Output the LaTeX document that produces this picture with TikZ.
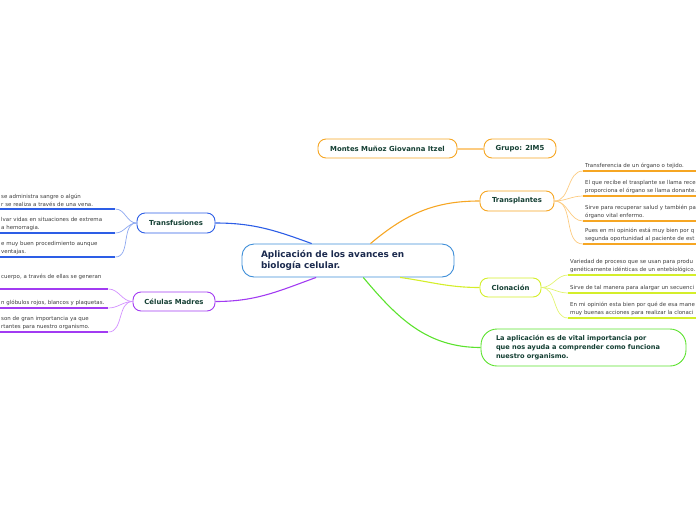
\documentclass[tikz,border=0pt]{standalone}
\usepackage{fontspec}
\setmainfont{DejaVu Sans}
\usepackage{xcolor}
\usetikzlibrary{positioning}
\definecolor{lbl}{HTML}{143F33}
\definecolor{ttl}{HTML}{1B2A4E}
\definecolor{leaftxt}{HTML}{3C3C3C}
\definecolor{cmain}{HTML}{3E8ED8}
\definecolor{corange}{HTML}{F6A623}
\definecolor{corangel}{HTML}{FCCB80}
\definecolor{cyel}{HTML}{D4EE2A}
\definecolor{cyell}{HTML}{E2F470}
\definecolor{cgreen}{HTML}{5CE22E}
\definecolor{cblue}{HTML}{2D5EE6}
\definecolor{cbluel}{HTML}{8DA8F0}
\definecolor{cpurp}{HTML}{A23BF2}
\definecolor{cpurpl}{HTML}{D290FF}

\begin{document}
\begin{tikzpicture}[x=1pt,y=-1pt,
  topic/.style={draw, rounded corners=8pt, fill=white, line width=0.9pt, align=center, inner sep=0pt, minimum height=19pt, text=lbl, font=\fontsize{6.9}{8}\selectfont\bfseries},
  leafr/.style={anchor=south west, align=left, text width=200pt, inner xsep=2pt, inner ysep=2.5pt, text=leaftxt, font=\fontsize{5.45}{8}\selectfont},
  leafl/.style={anchor=south west, align=left, text width=112pt, inner xsep=2pt, inner ysep=2.5pt, text=leaftxt, font=\fontsize{5.45}{8}\selectfont},
  br/.style={line width=1.1pt},
  fan/.style={line width=0.7pt},
  ul/.style={line width=1.4pt}]
\useasboundingbox (0,0) rectangle (696,520);
\clip (0,0) rectangle (696,520);

% central topic
\node[draw=cmain, line width=0.9pt, rounded corners=12pt, fill=white, minimum width=212pt, minimum height=33pt, text width=174pt, inner xsep=19pt, align=left, text=ttl, font=\fontsize{8.9}{10.5}\selectfont\bfseries] (main) at (348,260.5) {Aplicación de los avances en\\biología celular.};

% floating topic
\node[topic, draw=corange, minimum width=139pt] (autor) at (387.5,148.5) {Montes Muñoz Giovanna Itzel};
\node[topic, draw=corange, minimum width=72pt] (grupo) at (520,148.5) {Grupo: 2IM5};
\draw[corangel, line width=2pt] (autor) -- (grupo);

% main topics
\node[topic, draw=corange, minimum width=74pt, minimum height=20pt] (trans) at (517,201) {Transplantes};
\node[topic, draw=cyel, minimum width=61pt] (clon) at (510.5,287.5) {Clonación};
\node[topic, draw=cgreen, rounded corners=16pt, minimum width=205pt, minimum height=37pt, text width=175pt, inner xsep=15pt, align=left, font=\fontsize{6.6}{8.6}\selectfont\bfseries] (concl) at (583.5,347.5) {La aplicación es de vital importancia por\\que nos ayuda a comprender como funciona\\nuestro organismo.};
\node[topic, draw=cblue, minimum width=78pt, minimum height=20pt] (transf) at (176,223) {Transfusiones};
\node[topic, draw=cpurp, minimum width=82pt] (celm) at (174,301.5) {Células Madres};

\draw[br, corange] (main.37) to[out=40, in=180] (trans.west);
\draw[br, cyel] (main.342) to[out=-8, in=180] (clon.west);
\draw[br, cgreen] (main.312) to[out=-50, in=180] (concl.west);
\draw[br, cblue] (main.155) to[out=160, in=0] (transf.east);
\draw[br, cpurp] (main.208) to[out=200, in=0] (celm.east);

% Transplantes
\node[leafr] (tr1) at (583,171) {Transferencia de un órgano o tejido.};
\node[leafr] (tr2) at (583,196) {El que recibe el trasplante se llama rece\\proporciona el órgano se llama donante.};
\node[leafr] (tr3) at (583,221) {Sirve para recuperar salud y también pa\\órgano vital enfermo.};
\node[leafr] (tr4) at (583,244) {Pues en mi opinión está muy bien por q\\segunda oportunidad al paciente de est};
\foreach \n in {tr1,tr2,tr3,tr4} {
  \draw[fan, corangel] (trans.east) to[out=0, in=180] (\n.south west);
  \draw[ul, corange] (\n.south west) -- (\n.south east);
}

% Clonacion
\node[leafr] (cl1) at (568,275) {Variedad de proceso que se usan para produ\\genéticamente idénticas de un entebiológico.};
\node[leafr] (cl2) at (568,293) {Sirve de tal manera para alargar un secuenci};
\node[leafr] (cl3) at (568,318) {En mi opinión esta bien por qué de esa mane\\muy buenas acciones para realizar la clonaci};
\foreach \n in {cl1,cl2,cl3} {
  \draw[fan, cyell] (clon.east) to[out=0, in=180] (\n.south west);
  \draw[ul, cyel] (\n.south west) -- (\n.south east);
}

% Transfusiones
\node[leafl] (tf1) at (-1,209) {se administra sangre o algún\\r se realiza a través de una vena.};
\node[leafl] (tf2) at (-1,233) {lvar vidas en situaciones de extrema\\a hemorragia.};
\node[leafl] (tf3) at (-1,257) {e muy buen procedimiento aunque\\ventajas.};
\foreach \n in {tf1,tf2,tf3} {
  \draw[fan, cbluel] (transf.west) to[out=180, in=0] (\n.south east);
  \draw[ul, cblue] (\n.south west) -- (\n.south east);
}

% Celulas Madres
\node[leafl, text width=105pt] (cm1) at (-1,289) {cuerpo, a través de ellas se generan\\\mbox{}};
\node[leafl, text width=105pt] (cm2) at (-1,308) {n glóbulos rojos, blancos y plaquetas.};
\node[leafl, text width=105pt] (cm3) at (-1,332) {son de gran importancia ya que\\rtantes para nuestro organismo.};
\foreach \n in {cm1,cm2,cm3} {
  \draw[fan, cpurpl] (celm.west) to[out=180, in=0] (\n.south east);
  \draw[ul, cpurp] (\n.south west) -- (\n.south east);
}
\end{tikzpicture}
\end{document}
